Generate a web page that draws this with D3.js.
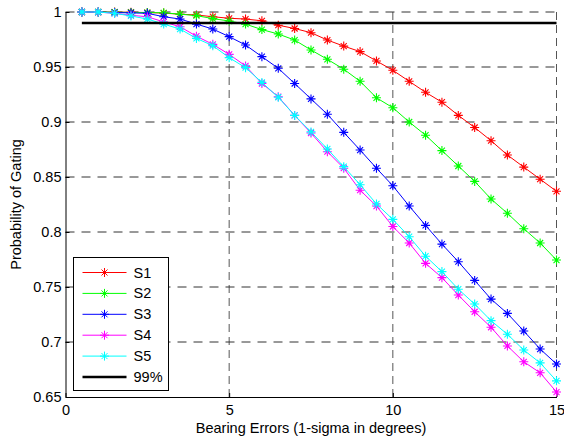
<!DOCTYPE html>
<html>
<head>
<meta charset="utf-8">
<script src="https://cdn.jsdelivr.net/npm/d3@7"></script>
<style>
  body { margin: 0; background: #fff; }
  text { font-family: 'Liberation Sans', Arial, sans-serif; fill: #000; }
</style>
</head>
<body>
<div id="chart-area"></div>
<script>
// bearing error (deg) where each series was sampled
const bearing = [0.5, 1, 1.5, 2, 2.5, 3, 3.5, 4, 4.5, 5, 5.5, 6, 6.5, 7, 7.5,
  8, 8.5, 9, 9.5, 10, 10.5, 11, 11.5, 12, 12.5, 13, 13.5, 14, 14.5, 15]

const s1 = [1.0, 1.0, 0.9999, 0.9998, 0.9995, 0.999, 0.998, 0.9973, 0.9957, 0.9943,
  0.9936, 0.992, 0.988, 0.985, 0.9812, 0.9745, 0.969, 0.964, 0.9555, 0.947,
  0.937, 0.927, 0.918, 0.906, 0.895, 0.883, 0.870, 0.859, 0.848, 0.837]
const s2 = [1.0, 1.0, 0.9998, 0.9996, 0.9995, 0.9993, 0.998, 0.9967, 0.994, 0.9918,
  0.989, 0.984, 0.980, 0.9745, 0.9655, 0.957, 0.948, 0.937, 0.922, 0.913,
  0.900, 0.888, 0.874, 0.860, 0.846, 0.830, 0.817, 0.803, 0.790, 0.7745]
const s3 = [1.0, 0.9999, 0.9995, 0.9992, 0.9988, 0.9957, 0.9936, 0.989, 0.9845, 0.9776,
  0.970, 0.9594, 0.9488, 0.935, 0.921, 0.907, 0.8906, 0.8745, 0.858, 0.842,
  0.8236, 0.806, 0.789, 0.773, 0.756, 0.739, 0.726, 0.710, 0.6936, 0.680]
const s4 = [1.0, 0.9999, 0.9988, 0.997, 0.9957, 0.991, 0.9866, 0.978, 0.9706, 0.9615,
  0.951, 0.935, 0.923, 0.906, 0.890, 0.873, 0.858, 0.838, 0.8236, 0.805,
  0.790, 0.7715, 0.7585, 0.7427, 0.7275, 0.7134, 0.6964, 0.682, 0.672, 0.6545]
const s5 = [1.0, 1.0, 0.9988, 0.9964, 0.9936, 0.989, 0.9845, 0.976, 0.9694, 0.9585,
  0.9494, 0.936, 0.9225, 0.906, 0.891, 0.8755, 0.8594, 0.843, 0.8255, 0.8115,
  0.7957, 0.778, 0.764, 0.748, 0.7345, 0.7194, 0.707, 0.6927, 0.681, 0.6647]

const seriesNames = ['S1', 'S2', 'S3', 'S4', 'S5']
const seriesColors = ['#ff0000', '#00ff00', '#0000ff', '#ff00ff', '#00ffff']
const seriesValues = [s1, s2, s3, s4, s5]

// 99% threshold line
const threshX = [0.5, 15]
const threshY = 0.99

const xTicks = [0, 5, 10, 15]
const yTicks = [0.65, 0.7, 0.75, 0.8, 0.85, 0.9, 0.95, 1]

const MARGIN = { LEFT: 65.5, RIGHT: 7.5, TOP: 12, BOTTOM: 45 }
const WIDTH = 564 - MARGIN.LEFT - MARGIN.RIGHT
const HEIGHT = 442 - MARGIN.TOP - MARGIN.BOTTOM
const FONT = '14.5px'

const svg = d3.select('#chart-area').append('svg')
  .attr('width', 564)
  .attr('height', 442)

const g = svg.append('g')
  .attr('transform', `translate(${MARGIN.LEFT}, ${MARGIN.TOP})`)

// SCALES
const x = d3.scaleLinear().domain([0, 15]).range([0, WIDTH])
const y = d3.scaleLinear().domain([0.65, 1]).range([HEIGHT, 0])

// GRID
g.append('g').selectAll('line')
  .data(xTicks.slice(1))
  .enter().append('line')
  .attr('x1', d => x(d)).attr('x2', d => x(d))
  .attr('y1', 0).attr('y2', HEIGHT)
  .attr('stroke', '#555')
  .attr('stroke-width', 1)
  .attr('stroke-dasharray', '8,5')
g.append('g').selectAll('line')
  .data(yTicks.slice(1))
  .enter().append('line')
  .attr('x1', 0).attr('x2', WIDTH)
  .attr('y1', d => y(d)).attr('y2', d => y(d))
  .attr('stroke', '#333')
  .attr('stroke-width', 1)
  .attr('stroke-dasharray', '9,7')

// AXES
const xAxis = d3.axisBottom(x)
  .tickValues(xTicks)
  .tickSizeInner(-4)
  .tickSizeOuter(0)
  .tickPadding(8)
const xg = g.append('g')
  .attr('transform', `translate(0, ${HEIGHT})`)
  .call(xAxis)
xg.selectAll('text').attr('font-size', FONT).attr('font-family', 'Liberation Sans, Arial, sans-serif')

const yAxis = d3.axisLeft(y)
  .tickValues(yTicks)
  .tickFormat(d => d3.format('')(+d.toFixed(2)))
  .tickSizeInner(-4)
  .tickSizeOuter(0)
  .tickPadding(4)
const yg = g.append('g').call(yAxis)
yg.selectAll('text').attr('font-size', FONT).attr('font-family', 'Liberation Sans, Arial, sans-serif')
svg.selectAll('.domain').attr('stroke', '#000')
svg.selectAll('.tick line').attr('stroke', '#000')

// LABEL AXES
g.append('text')
  .attr('x', WIDTH / 2)
  .attr('y', HEIGHT + 36)
  .attr('font-size', FONT)
  .attr('text-anchor', 'middle')
  .text('Bearing Errors (1-sigma in degrees)')
g.append('text')
  .attr('x', -(HEIGHT / 2))
  .attr('y', -44.5)
  .attr('font-size', FONT)
  .attr('text-anchor', 'middle')
  .attr('transform', 'rotate(-90)')
  .text('Probability of Gating')

// asterisk marker
const star = 'M0,-4.5V4.5M-4.5,0H4.5M-3,-3L3,3M-3,3L3,-3'

const line = d3.line()
  .x((d, i) => x(bearing[i]))
  .y(d => y(d))

seriesValues.forEach((vals, k) => {
  g.append('path')
    .datum(vals)
    .attr('d', line)
    .attr('fill', 'none')
    .attr('stroke', seriesColors[k])
    .attr('stroke-width', 1)
  g.append('g').selectAll('path')
    .data(vals)
    .enter().append('path')
    .attr('transform', (d, i) => `translate(${x(bearing[i])}, ${y(d)})`)
    .attr('d', star)
    .attr('stroke', seriesColors[k])
    .attr('stroke-width', 1.1)
})

g.append('line')
  .attr('x1', x(threshX[0])).attr('x2', x(threshX[1]))
  .attr('y1', y(threshY)).attr('y2', y(threshY))
  .attr('stroke', '#000')
  .attr('stroke-width', 2.5)

// LEGEND
const legend = svg.append('g').attr('transform', 'translate(73.5, 257.5)')
legend.append('rect')
  .attr('width', 95).attr('height', 133)
  .attr('fill', '#fff')
  .attr('stroke', '#000')
  .attr('stroke-width', 1)
const legendItems = seriesNames.concat(['99%'])
legendItems.forEach((name, i) => {
  const row = legend.append('g').attr('transform', `translate(0, ${15 + i * 20.9})`)
  const col = i < 5 ? seriesColors[i] : '#000'
  row.append('line')
    .attr('x1', 9).attr('x2', 53)
    .attr('stroke', col)
    .attr('stroke-width', i < 5 ? 1 : 2.5)
  if (i < 5) {
    row.append('path')
      .attr('transform', 'translate(31, 0)')
      .attr('d', star)
      .attr('stroke', col)
  }
  row.append('text')
    .attr('x', 60)
    .attr('y', 5)
    .attr('font-size', FONT)
    .text(name)
})
</script>
</body>
</html>
